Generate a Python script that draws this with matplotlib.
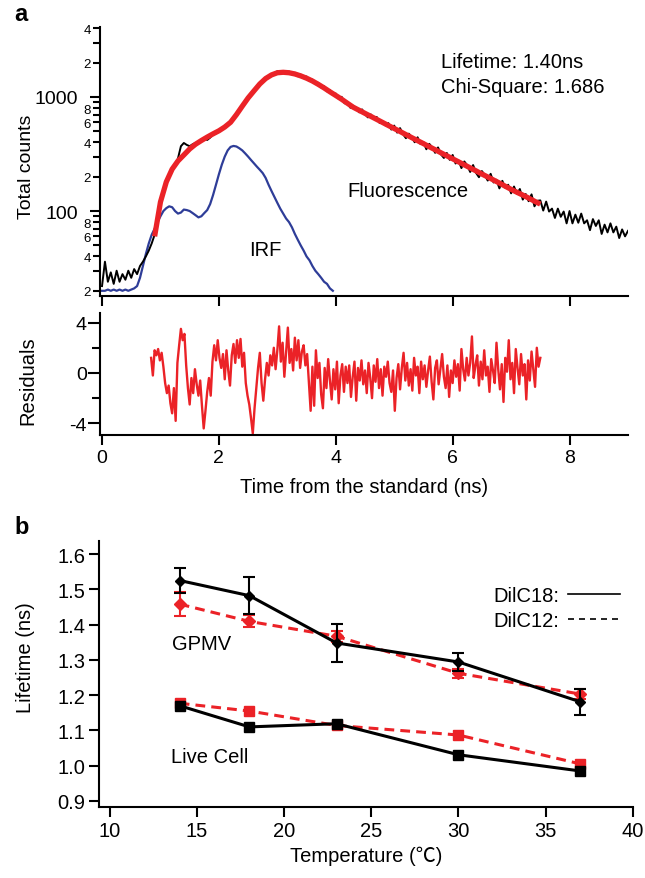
import numpy as np
import matplotlib
matplotlib.use('Agg')
import matplotlib.pyplot as plt
from matplotlib.ticker import FixedLocator, FuncFormatter
from matplotlib.lines import Line2D

plt.rcParams['font.family'] = ['Liberation Sans', 'Noto Sans CJK SC', 'DejaVu Sans']
plt.rcParams['axes.unicode_minus'] = False

# ---------------- Panel a: decay data ----------------
data_t0, data_dt = 0.0, 0.05
data_counts = [
    22, 36, 24, 29, 23, 30, 24, 28, 25, 30, 26, 31, 28, 33, 36, 40, 45, 52, 62, 85,
    118, 150, 178, 210, 236, 250, 290, 370, 395, 380, 370, 385, 395, 400, 410, 430, 420, 440, 470, 480,
    500, 515, 540, 570, 610, 650, 710, 760, 840, 900, 1000, 1030, 1160, 1190, 1330, 1350, 1480, 1490, 1590, 1580,
    1680, 1610, 1690, 1620, 1670, 1580, 1630, 1520, 1570, 1460, 1510, 1380, 1420, 1300, 1330, 1210, 1240, 1120, 1150, 1040,
    1071, 962, 1003, 880, 889, 804, 836, 804, 733, 778, 704, 662, 703, 649, 668, 592, 610, 563, 590, 518,
    561, 487, 533, 473, 435, 477, 444, 401, 443, 386, 402, 348, 388, 362, 324, 361, 314, 292, 323, 281,
    310, 261, 278, 238, 272, 251, 220, 253, 216, 198, 224, 207, 185, 212, 178, 188, 158, 184, 160, 170,
    143, 164, 142, 156, 126, 141, 122, 140, 110, 123, 124, 101, 121, 99, 105, 87, 105, 89, 99, 78,
    100, 78, 93, 79, 95, 78, 83, 68, 85, 74, 83, 63, 76, 65, 78, 65, 73, 58, 69, 60, 67,
]

irf_t0, irf_dt = 0.0, 0.05
irf_counts = [
    20, 20, 20.5, 20, 20.5, 20, 20.5, 20, 20.5, 20, 20.5, 21, 22, 26, 33, 42, 52, 62, 70, 80,
    90, 100, 106, 110, 108, 100, 95, 97, 103, 102, 100, 96, 92, 88, 90, 96, 102, 115, 138, 170,
    210, 255, 300, 340, 365, 372, 368, 355, 340, 320, 300, 280, 262, 245, 230, 215, 195, 170, 150, 133,
    118, 105, 95, 86, 80, 72, 63, 56, 50, 45, 40, 37, 33, 30, 28, 26, 24, 23, 21, 20,
]

fit_t0, fit_dt = 0.9, 0.1
fit_counts = [
    60, 120, 180, 233, 275, 310, 350, 385, 415, 445, 475,
    505, 545, 600, 700, 830, 980, 1130, 1300, 1450, 1560,
    1630, 1645, 1630, 1590, 1530, 1460, 1380, 1290, 1200, 1110,
    1030, 955, 880, 812, 764, 718, 676, 636, 598, 562,
    529, 498, 468, 440, 414, 390, 366, 345, 324, 305,
    287, 270, 254, 239, 225, 211, 199, 187, 176, 165,
    155, 146, 138, 130, 122, 115,
]

res_t0, res_dt = 0.84, 0.03
residuals = [
    1.2, -0.2, 1.8, 1.4, 1.9, 1.0, 1.6, 0.5, -0.8, -1.6, -1.0, -2.4, -3.2, -1.2, -3.8, 0.8, 2.2, 3.5, 2.6, 3.1, 0.6, -1.2, -2.5,
    -0.4, -1.6, 0.3, -0.9, -1.8, -0.6, -2.6, -4.4, -3.0, -1.5, -0.4, -1.8, 0.9, 2.2, 1.0, 2.6, 1.2,
    0.4, 1.5, -0.5, 1.8, 0.2, -1.0, 1.4, 2.3, 0.8, 2.6, 1.2, 2.7, 0.5, 1.6, -0.8, -1.8,
    -2.5, -3.6, -4.8, -2.8, -1.2, 0.4, 1.6, -0.8, -2.2, -0.5, 0.8, -0.2, 1.4, 0.6, 2.0, 0.3,
    1.8, 3.7, 0.9, 2.4, -0.3, 1.6, 3.6, 0.8, 1.9, 0.2, 2.8, 1.0, 2.6, 0.4, 1.7, 2.2,
    0.6, 1.5, -0.8, -3.0, 0.5, -2.6, 1.8, -0.4, 0.8, -1.7, -2.8, 0.4, -1.2, 1.1, -0.6, -2.1,
    0.3, -1.3, 0.9, -2.4, -0.2, 0.7, -1.5, 0.5, -0.8, 0.6, -1.9, -0.3, 0.9, -2.2, 0.4, -0.6,
    1.0, -0.9, 0.2, -1.6, 0.8, -0.4, -2.0, 0.6, -0.7, 1.1, -1.2, 0.3, -1.8, 0.5, -0.3, 0.9,
    -0.8, -1.5, 0.2, -3.0, -0.4, 0.7, -1.3, 0.4, 1.6, -0.6, 0.8, -1.0, 0.3, -1.4, 1.2, -0.2,
    0.5, -1.6, 0.9, -0.5, 0.6, -1.1, 0.2, 1.3, -0.7, -2.1, 0.4, 1.0, -0.9, 0.3, 1.5, -0.3,
    -1.2, 0.6, -1.9, 0.2, -0.8, 1.0, -0.3, 0.7, -1.4, 1.9, 0.3, -0.6, 1.2, -0.2, 0.8, 2.9,
    -0.4, 0.6, 1.4, -1.0, 0.9, -0.5, 1.8, -0.2, 0.5, -1.5, 1.1, 0.2, -0.8, 2.4, 0.3, -1.3,
    0.7, -2.3, 1.2, 0.1, 2.6, -0.5, 0.8, -1.6, 1.9, 0.4, -0.9, 1.5, -0.2, 0.7, -2.1, 1.0,
    -0.6, 1.7, 0.3, -1.1, 2.0, 0.5, 1.2,
]

# ---------------- Panel b: lifetime vs temperature ----------------
temperature = [14, 18, 23, 30, 37]
gpmv_c18 = [1.525, 1.482, 1.348, 1.294, 1.181]
gpmv_c18_err = [0.035, 0.053, 0.053, 0.025, 0.037]
gpmv_c12 = [1.458, 1.409, 1.367, 1.262, 1.203]
gpmv_c12_err = [0.034, 0.017, 0.015, 0.013, 0.015]
cell_c18 = [1.170, 1.110, 1.119, 1.031, 0.985]
cell_c12 = [1.177, 1.155, 1.114, 1.087, 1.005]

RED = '#EB2227'
BLUE = '#2E3D98'

data_t = data_t0 + data_dt * np.arange(len(data_counts))
irf_t = irf_t0 + irf_dt * np.arange(len(irf_counts))
fit_t = fit_t0 + fit_dt * np.arange(len(fit_counts))
res_t = res_t0 + res_dt * np.arange(len(residuals))

fig = plt.figure(figsize=(6.45, 8.79), dpi=100)

SPW = 1.5

def style(ax):
    for s in ('top', 'right'):
        ax.spines[s].set_visible(False)
    for s in ('left', 'bottom'):
        ax.spines[s].set_linewidth(SPW)
    ax.tick_params(which='both', direction='out', width=SPW, color='black')

# ---- a (top) ----
ax1 = fig.add_axes([0.155, 0.6621, 0.8186, 0.306])
style(ax1)
ax1.set_yscale('log')
ax1.plot(irf_t, irf_counts, color=BLUE, lw=1.6, zorder=2)
ax1.plot(data_t, data_counts, color='black', lw=1.4, zorder=3)
ax1.plot(fit_t, fit_counts, color=RED, lw=3.8, zorder=4, solid_capstyle='butt')
ax1.set_xlim(-0.035, 9.0)
ax1.set_ylim(18, 4100)
ax1.xaxis.set_major_locator(FixedLocator([0, 2, 4, 6, 8]))
ax1.xaxis.set_minor_locator(FixedLocator([]))
ax1.tick_params(axis='x', which='major', length=7, labelbottom=False)
ax1.yaxis.set_major_locator(FixedLocator([100, 1000]))
minors = [m * d for d in (10, 100, 1000) for m in range(2, 10) if m * d <= 4000]
ax1.yaxis.set_minor_locator(FixedLocator(minors))
ax1.yaxis.set_major_formatter(FuncFormatter(lambda v, p: '%d' % v))

def minor_fmt(v, p):
    lead = int(round(v / 10 ** np.floor(np.log10(v) + 1e-9)))
    return str(lead) if lead in (2, 4, 6, 8) else ''

ax1.yaxis.set_minor_formatter(FuncFormatter(minor_fmt))
ax1.tick_params(axis='y', which='major', length=7.5, labelsize=14, pad=8)
ax1.tick_params(axis='y', which='minor', length=5, labelsize=9.5, pad=1.5)
ax1.set_ylabel('Total counts', fontsize=14)
ax1.yaxis.set_label_coords(-0.123, 0.483)
ax1.text(5.8, 2027, 'Lifetime: 1.40ns', fontsize=14.5, va='center', ha='left')
ax1.text(5.8, 1224, 'Chi-Square: 1.686', fontsize=14.5, va='center', ha='left')
ax1.text(4.2, 150, 'Fluorescence', fontsize=14.5, va='center', ha='left')
ax1.text(2.51, 46, 'IRF', fontsize=14.5, va='center', ha='left')

# ---- a (residuals) ----
ax2 = fig.add_axes([0.155, 0.504, 0.8186, 0.1388])
style(ax2)
ax2.plot(res_t, residuals, color=RED, lw=1.7)
ax2.set_xlim(-0.035, 9.0)
ax2.set_ylim(-4.92, 4.76)
ax2.yaxis.set_major_locator(FixedLocator([-4, 0, 4]))
ax2.yaxis.set_minor_locator(FixedLocator([-2, 2]))
ax2.xaxis.set_major_locator(FixedLocator([0, 2, 4, 6, 8]))
ax2.tick_params(axis='y', which='major', length=8.5, labelsize=14, pad=1)
ax2.tick_params(axis='y', which='minor', length=6)
ax2.tick_params(axis='x', which='major', length=7, labelsize=14, pad=3)
ax2.set_ylabel('Residuals', fontsize=14.5)
ax2.yaxis.set_label_coords(-0.119, 0.45)
ax2.set_xlabel('Time from the standard (ns)', fontsize=14.5)
ax2.xaxis.set_label_coords(0.5, -0.345)

# ---- b ----
ax3 = fig.add_axes([0.1535, 0.0808, 0.8275, 0.3026])
style(ax3)
dash = (0, (3.2, 2.0))
ax3.errorbar(temperature, gpmv_c12, yerr=gpmv_c12_err, color=RED, ls=dash, lw=2.2,
             marker='D', ms=6, capsize=4, elinewidth=1.5, capthick=1.5, zorder=3)
ax3.plot(temperature, cell_c12, color=RED, ls=dash, lw=2.2, marker='s', ms=7, zorder=3)
ax3.errorbar(temperature, gpmv_c18, yerr=gpmv_c18_err, color='black', lw=2.2,
             marker='D', ms=5.5, capsize=4, elinewidth=1.5, capthick=1.5, zorder=4)
ax3.plot(temperature, cell_c18, color='black', lw=2.2, marker='s', ms=7, zorder=4)
ax3.set_xlim(9.37, 40)
ax3.set_ylim(0.883, 1.637)
ax3.xaxis.set_major_locator(FixedLocator([10, 15, 20, 25, 30, 35, 40]))
ax3.yaxis.set_major_locator(FixedLocator([0.9, 1.0, 1.1, 1.2, 1.3, 1.4, 1.5, 1.6]))
ax3.yaxis.set_major_formatter(FuncFormatter(lambda v, p: '%.1f' % v))
ax3.tick_params(axis='both', which='major', length=7, labelsize=14.5, pad=3)
ax3.set_ylabel('Lifetime (ns)', fontsize=14.5)
ax3.yaxis.set_label_coords(-0.12, 0.566)
ax3.set_xlabel('Temperature (\u2103)', fontsize=14.5)
ax3.xaxis.set_label_coords(0.5, -0.145)
ax3.text(13.56, 1.345, 'GPMV', fontsize=14.5, va='center', ha='left')
ax3.text(13.5, 1.025, 'Live Cell', fontsize=14.5, va='center', ha='left')
handles = [Line2D([], [], color='black', lw=1.2),
           Line2D([], [], color='black', lw=1.2, ls=(0, (3.6, 3)))]
ax3.legend(handles, ['DilC18:', 'DilC12:'], markerfirst=False, frameon=False,
           loc='upper right', bbox_to_anchor=(0.995, 0.87), borderpad=0,
           handlelength=2.6, handletextpad=0.4, labelspacing=0.3, fontsize=14.5)

fig.text(0.022, 0.983, 'a', fontsize=17, fontweight='bold', va='center', ha='left')
fig.text(0.022, 0.40, 'b', fontsize=17, fontweight='bold', va='center', ha='left')

fig.savefig('out.png', dpi=100)
